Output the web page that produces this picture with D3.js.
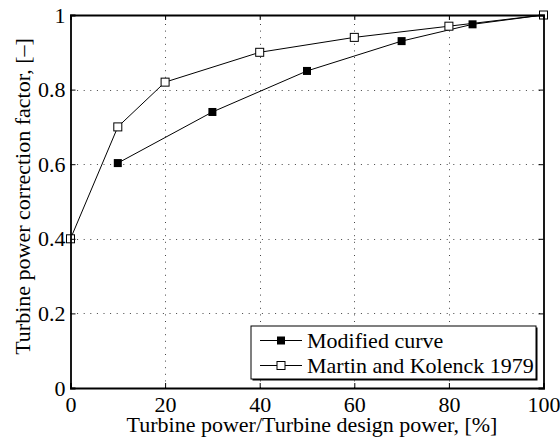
<!DOCTYPE html>
<html>
<head>
<meta charset="utf-8">
<script src="https://cdn.jsdelivr.net/npm/d3@7"></script>
<style>
  html, body { margin: 0; padding: 0; background: #fff; }
  svg { display: block; }
</style>
</head>
<body>
<script>
// Turbine part-load correction: two curves of correction factor vs. relative power
const modifiedX = [10, 30, 50, 70, 85, 100];
const modifiedY = [0.603, 0.74, 0.85, 0.93, 0.975, 1.0];
const martinX = [0, 10, 20, 40, 60, 80, 100];
const martinY = [0.4, 0.7, 0.82, 0.9, 0.94, 0.97, 1.0];
const xTicks = [0, 20, 40, 60, 80, 100];
const yTicks = [0, 0.2, 0.4, 0.6, 0.8, 1];
const seriesNames = ["Modified curve", "Martin and Kolenck 1979"];

const W = 560, H = 441;
const m = { left: 70.5, top: 15, right: 543.5, bottom: 388 };
const FONT = "'Liberation Serif', 'Times New Roman', serif";
const FS = "22px";

const svg = d3.select("body").append("svg").attr("width", W).attr("height", H);

const x = d3.scaleLinear().domain([0, 100]).range([m.left, m.right]);
const y = d3.scaleLinear().domain([0, 1]).range([m.bottom, m.top]);

// dotted grid
const grid = svg.append("g").attr("stroke", "#444").attr("stroke-width", 1)
  .attr("stroke-dasharray", "1,5.6");
grid.selectAll("line.gx").data(xTicks.slice(1, -1)).join("line")
  .attr("x1", d => Math.round(x(d)) + 0.5).attr("x2", d => Math.round(x(d)) + 0.5)
  .attr("y1", m.bottom).attr("y2", m.top);
grid.selectAll("line.gy").data(yTicks.slice(1, -1)).join("line")
  .attr("y1", d => Math.round(y(d)) + 0.5).attr("y2", d => Math.round(y(d)) + 0.5)
  .attr("x1", m.left).attr("x2", m.right);

// series
const line = d3.line().x(d => x(d[0])).y(d => y(d[1]));
const modified = modifiedX.map((v, i) => [v, modifiedY[i]]);
const martin = martinX.map((v, i) => [v, martinY[i]]);
const ms = 8;

svg.append("path").datum(modified).attr("d", line)
  .attr("fill", "none").attr("stroke", "#000").attr("stroke-width", 1);
svg.append("g").selectAll("rect").data(modified).join("rect")
  .attr("x", d => x(d[0]) - ms / 2).attr("y", d => y(d[1]) - ms / 2)
  .attr("width", ms).attr("height", ms).attr("fill", "#000");

svg.append("path").datum(martin).attr("d", line)
  .attr("fill", "none").attr("stroke", "#000").attr("stroke-width", 1);
svg.append("g").selectAll("rect").data(martin).join("rect")
  .attr("x", d => x(d[0]) - ms / 2).attr("y", d => y(d[1]) - ms / 2)
  .attr("width", ms).attr("height", ms).attr("fill", "#fff")
  .attr("stroke", "#000").attr("stroke-width", 1);

// axes box with inward ticks
const tickLen = 5;
const axB = d3.axisBottom(x).tickValues(xTicks).tickSize(-tickLen).tickPadding(8.5).tickFormat(d3.format("d"));
const axT = d3.axisTop(x).tickValues(xTicks).tickSize(-tickLen).tickFormat("");
const axL = d3.axisLeft(y).tickValues(yTicks).tickSize(-tickLen).tickPadding(5)
  .tickFormat(d => d === 0 || d === 1 ? d3.format("d")(d) : d3.format(".1f")(d));
const axR = d3.axisRight(y).tickValues(yTicks).tickSize(-tickLen).tickFormat("");

function styleAxis(g) {
  g.attr("font-family", null).attr("font-size", null);
  g.select(".domain").attr("stroke", "#000").attr("stroke-width", 1.8);
  g.selectAll(".tick line").attr("stroke", "#000").attr("stroke-width", 1);
  g.selectAll(".tick text").style("font-size", FS).style("font-family", FONT).attr("fill", "#000");
}
svg.append("g").attr("transform", `translate(0,${m.bottom})`).call(axB).call(styleAxis);
svg.append("g").attr("transform", `translate(0,${m.top})`).call(axT).call(styleAxis);
svg.append("g").attr("transform", `translate(${m.left},0)`).call(axL).call(styleAxis);
svg.append("g").attr("transform", `translate(${m.right},0)`).call(axR).call(styleAxis);

// axis titles
svg.append("text").attr("x", (m.left + m.right) / 2 + 5).attr("y", 432)
  .attr("text-anchor", "middle").style("font-size", FS).style("font-family", FONT)
  .text("Turbine power/Turbine design power, [%]");
svg.append("text").attr("transform", `translate(29.5,${(m.top + m.bottom) / 2 - 5}) rotate(-90)`)
  .attr("text-anchor", "middle").style("font-size", FS).style("font-family", FONT)
  .text("Turbine power correction factor, [\u2013]");

// legend
const lg = { x: 251, y: 326, w: 285, h: 53 };
const legend = svg.append("g");
legend.append("rect").attr("x", lg.x + 1.5).attr("y", lg.y + 1.5).attr("width", lg.w).attr("height", lg.h)
  .attr("fill", "#000");
legend.append("rect").attr("x", lg.x).attr("y", lg.y).attr("width", lg.w).attr("height", lg.h)
  .attr("fill", "#fff").attr("stroke", "#000").attr("stroke-width", 1);
const rows = legend.selectAll("g").data(seriesNames).join("g")
  .attr("transform", (d, i) => `translate(${lg.x},${lg.y + 14.5 + i * 25})`);
rows.append("line").attr("x1", 9).attr("x2", 51).attr("stroke", "#000").attr("stroke-width", 1);
rows.append("rect").attr("x", 30 - ms / 2).attr("y", -ms / 2).attr("width", ms).attr("height", ms)
  .attr("fill", (d, i) => i === 0 ? "#000" : "#fff")
  .attr("stroke", "#000").attr("stroke-width", (d, i) => i === 0 ? 0 : 1);
rows.append("text").attr("x", 56).attr("y", 7).style("font-size", FS).style("font-family", FONT).text(d => d);
</script>
</body>
</html>
